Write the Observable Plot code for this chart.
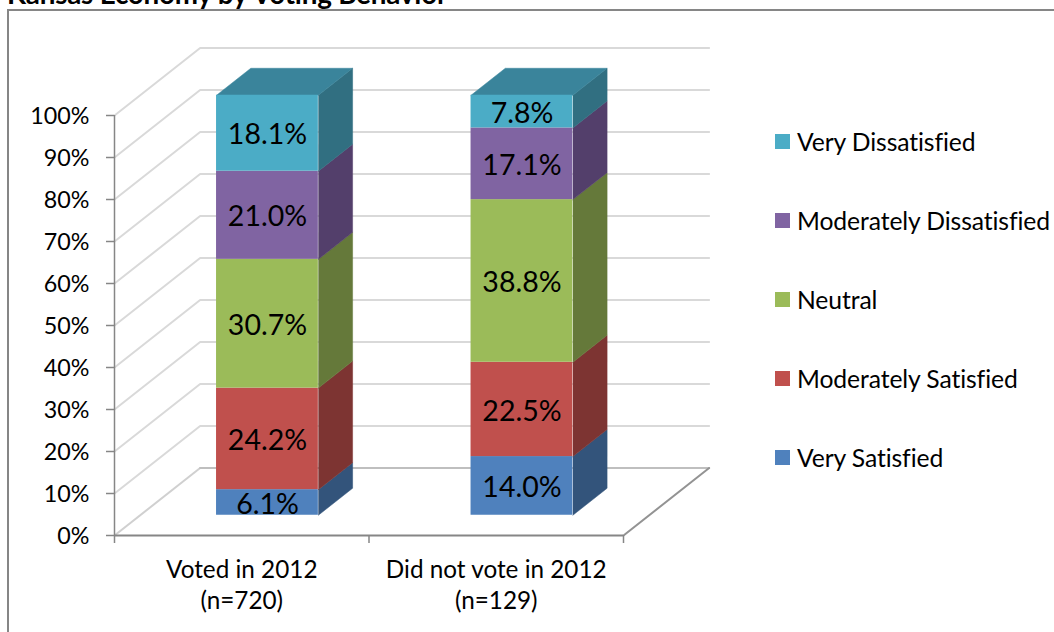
<!DOCTYPE html>
<html>
<head>
<meta charset="utf-8">
<script src="https://cdn.jsdelivr.net/npm/d3@7"></script>
<script src="https://cdn.jsdelivr.net/npm/@observablehq/plot@0.6"></script>
<style>
html,body{margin:0;padding:0;background:#fff;}
#wrap{position:relative;width:1054px;height:632px;overflow:hidden;font-family:Lato,sans-serif;color:#000;}
#border{position:absolute;left:7px;top:9px;width:1200px;height:800px;border:2px solid #868686;}
#title{position:absolute;left:7px;top:-23px;font:bold 27.8px Lato,sans-serif;white-space:nowrap;letter-spacing:-0.2px;}
#wrap svg{position:absolute;left:0;top:0;background:transparent;}
.lg{position:absolute;left:775px;display:flex;align-items:center;height:30px;font-size:24.7px;white-space:nowrap;letter-spacing:-0.1px;}
.lg i{display:inline-block;width:15px;height:15px;margin-right:7px;}
</style>
</head>
<body>
<div id="wrap"><div id="border"></div><div id="title">Kansas Economy by Voting Behavior</div></div>
<script>
const groups = ["Voted in 2012\n(n=720)", "Did not vote in 2012\n(n=129)"];
const levels = ["Very Satisfied", "Moderately Satisfied", "Neutral", "Moderately Dissatisfied", "Very Dissatisfied"];
const voted = [6.1, 24.2, 30.7, 21.0, 18.1];
const didNotVote = [14.0, 22.5, 38.8, 17.1, 7.8];
const frontColors = ["#4F81BD", "#C0504D", "#9BBB59", "#8064A2", "#4BACC6"];
const sideColors = ["#33547B", "#7D3432", "#65793A", "#533F6B", "#316F81"];
const topColor = "#3A849B";
const yTicks = [0, 10, 20, 30, 40, 50, 60, 70, 80, 90, 100];

// oblique projection of (category position, percent, depth) into the chart's x/y scales
const DEPTH_X = 0.3365, DEPTH_Y = 16.07;
const project = (c, v, d) => ({x: c + d * DEPTH_X, y: v + d * DEPTH_Y});
const BAR_W = 0.4, FRONT = 0.3, BACK = 0.7;

const fronts = [], polys = [], labels = [];
[voted, didNotVote].forEach((vals, g) => {
  const total = d3.sum(vals);
  const c0 = g + 0.3, c1 = c0 + BAR_W;
  let acc = 0;
  vals.forEach((val, i) => {
    const v0 = acc / total * 100;
    acc += val;
    const v1 = acc / total * 100;
    const a = project(c0, v0, FRONT), b = project(c1, v1, FRONT);
    fronts.push({x1: a.x, x2: b.x, y1: a.y, y2: b.y, color: frontColors[i]});
    labels.push({x: (a.x + b.x) / 2, y: (a.y + b.y) / 2, text: val.toFixed(1) + "%"});
    [[c1, v0, FRONT], [c1, v0, BACK], [c1, v1, BACK], [c1, v1, FRONT]].forEach(p =>
      polys.push({...project(...p), face: `s${g}${i}`, color: sideColors[i]}));
  });
  [[c0, 100, FRONT], [c0, 100, BACK], [c1, 100, BACK], [c1, 100, FRONT]].forEach(p =>
    polys.push({...project(...p), face: `t${g}`, color: topColor}));
});

const grid = yTicks.filter(v => v > 0).flatMap(v =>
  [[0, v, 0], [0, v, 1], [2, v, 1]].map(p => ({...project(...p), v})));
const floorLeft = [[0, 0, 0], [0, 0, 1]].map(p => project(...p));
const floorBack = [[0, 0, 1], [2, 0, 1]].map(p => project(...p));
const floorRight = [[2, 0, 1], [2, 0, 0]].map(p => project(...p));

const chart = Plot.plot({
  width: 1054, height: 632,
  marginLeft: 114, marginRight: 431, marginTop: 115, marginBottom: 97,
  style: {fontFamily: "Lato, sans-serif", fontSize: "23.3px", color: "#000", overflow: "visible"},
  x: {domain: [0, 2], range: [114, 623], axis: null},
  y: {domain: [0, 100], range: [535, 115], axis: null},
  marks: [
    Plot.line(grid, {x: "x", y: "y", z: "v", stroke: "#D9D9D9", strokeWidth: 2, clip: false}),
    Plot.line(floorLeft, {x: "x", y: "y", stroke: "#D0D0D0", strokeWidth: 2}),
    Plot.line(floorBack, {x: "x", y: "y", stroke: "#BFBFBF", strokeWidth: 2}),
    Plot.line(floorRight, {x: "x", y: "y", stroke: "#939393", strokeWidth: 2}),
    Plot.axisY({ticks: yTicks, tickSize: 8, stroke: "#868686", strokeWidth: 1.5, text: null, label: null}),
    Plot.axisY({ticks: yTicks, tickSize: 0, tickPadding: 25, dy: 1, tickFormat: d => d + "%", label: null, fill: "#000"}),
    Plot.axisX({ticks: [0, 1, 2], tickSize: 8, stroke: "#868686", strokeWidth: 1.5, text: null, label: null}),
    Plot.ruleX([0], {y1: 0, y2: 100, stroke: "#868686", strokeWidth: 1.5}),
    Plot.ruleY([0], {x1: 0, x2: 2, stroke: "#868686", strokeWidth: 2}),
    Plot.line(polys, {x: "x", y: "y", z: "face", fill: "color", stroke: "color", strokeWidth: 0.5}),
    Plot.rect(fronts, {x1: "x1", x2: "x2", y1: "y1", y2: "y2", fill: "color"}),
    Plot.text(labels, {x: "x", y: "y", text: "text", fontSize: 28.5, fill: "#000", dy: 2}),
    Plot.text(groups, {x: (d, i) => i + 0.5, y: () => 0, text: d => d, dy: 20, lineAnchor: "top", lineHeight: 1.28, fontSize: 24.3, fill: "#000"})
  ]
});
const wrap = document.getElementById("wrap");
wrap.appendChild(chart);

const legendY = [458, 379, 300, 221, 142];
levels.forEach((name, i) => {
  const row = document.createElement("div");
  row.className = "lg";
  row.style.top = (legendY[i] - 16) + "px";
  const sw = document.createElement("i");
  sw.style.background = frontColors[i];
  row.appendChild(sw);
  row.appendChild(document.createTextNode(name));
  wrap.appendChild(row);
});
</script>
</body>
</html>
